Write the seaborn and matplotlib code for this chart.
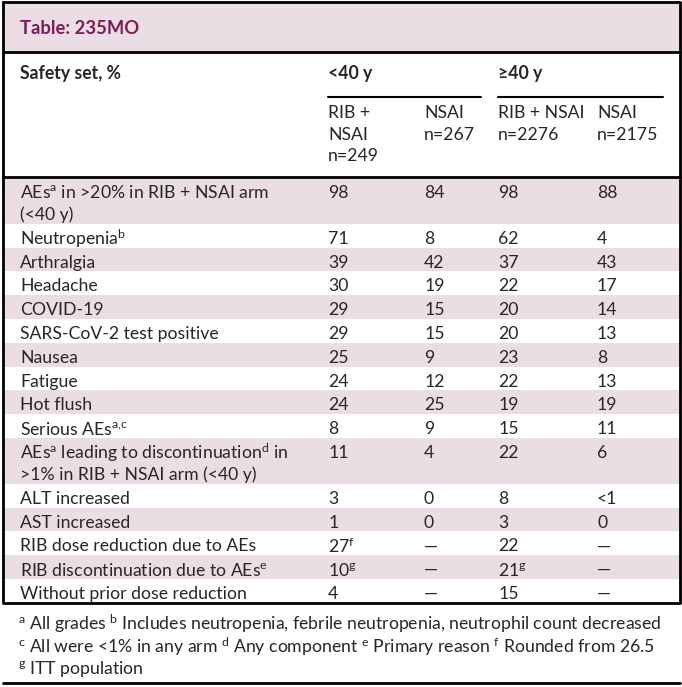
import numpy as np
import pandas as pd
import seaborn as sns
import matplotlib.pyplot as plt

# table content
title = "Table: 235MO"
stub_header = "Safety set, %"
age_groups = ["<40 y", "≥40 y"]
arm_headers = ["RIB +\nNSAI\nn=249", "NSAI\nn=267", "RIB + NSAI\nn=2276", "NSAI\nn=2175"]

row_labels = [
    "AEs$^{a}$ in >20% in RIB + NSAI arm\n(<40 y)",
    "Neutropenia$^{b}$",
    "Arthralgia",
    "Headache",
    "COVID-19",
    "SARS-CoV-2 test positive",
    "Nausea",
    "Fatigue",
    "Hot flush",
    "Serious AEs$^{a{,}c}$",
    "AEs$^{a}$ leading to discontinuation$^{d}$ in\n>1% in RIB + NSAI arm (<40 y)",
    "ALT increased",
    "AST increased",
    "RIB dose reduction due to AEs",
    "RIB discontinuation due to AEs$^{e}$",
    "Without prior dose reduction",
]
rib_nsai_lt40 = ["98", "71", "39", "30", "29", "29", "25", "24", "24", "8", "11", "3", "1", "27$^{f}$", "10$^{g}$", "4"]
nsai_lt40 = ["84", "8", "42", "19", "15", "15", "9", "12", "25", "9", "4", "0", "0", "—", "—", "—"]
rib_nsai_ge40 = ["98", "62", "37", "22", "20", "20", "23", "22", "19", "15", "22", "8", "3", "22", "21$^{g}$", "15"]
nsai_ge40 = ["88", "4", "43", "17", "14", "13", "8", "13", "19", "11", "6", "<1", "0", "—", "—", "—"]

footnotes = [
    "$^{a}$ All grades $^{b}$ Includes neutropenia, febrile neutropenia, neutrophil count decreased",
    "$^{c}$ All were <1% in any arm $^{d}$ Any component $^{e}$ Primary reason $^{f}$ Rounded from 26.5",
    "$^{g}$ ITT population",
]

df = pd.DataFrame({
    "label": row_labels,
    "c1": rib_nsai_lt40,
    "c2": nsai_lt40,
    "c3": rib_nsai_ge40,
    "c4": nsai_ge40,
})

sns.set_theme(style="white")
plt.rcParams["font.family"] = ["Lato", "DejaVu Sans"]
plt.rcParams["mathtext.fontset"] = "custom"
plt.rcParams["mathtext.rm"] = "Lato"
plt.rcParams["mathtext.it"] = "Lato"
plt.rcParams["mathtext.bf"] = "Lato:bold"

pink = "#ebdde4"
title_col = "#7d1a5b"
fs = 12.7

fig = plt.figure(figsize=(6.82, 6.87), dpi=100)
ax = fig.add_axes([0, 0, 1, 1])
ax.set_xlim(0, 682)
ax.set_ylim(687, 0)
ax.axis("off")

col_x = [328, 424, 498, 597]
label_x = 20
left, right = 3, 680

# title band
ax.axhspan(2, 52, xmin=left / 682, xmax=right / 682, color=pink, lw=0)
ax.text(label_x, 28, title, color=title_col, fontsize=fs + 0.5, fontweight="bold", va="center")

# header
ax.text(label_x, 74, stub_header, fontsize=fs, fontweight="bold", va="center")
ax.text(col_x[0], 74, age_groups[0], fontsize=fs, fontweight="bold", va="center")
ax.text(col_x[2], 74, age_groups[1], fontsize=fs, fontweight="bold", va="center")
ax.plot([col_x[0], 481], [97, 97], color="black", lw=1.5)
ax.plot([col_x[2], 663], [97, 97], color="black", lw=1.5)
for x, h in zip(col_x, arm_headers):
    for k, line in enumerate(h.split("\n")):
        ax.text(x, 113 + 21.5 * k, line, fontsize=fs, va="center")

# body rows
line_h = 22
row_h = 23.8
y = 178
for i, row in df.iterrows():
    nlines = row["label"].count("\n") + 1
    h = row_h + (nlines - 1) * line_h
    if i % 2 == 0:
        ax.axhspan(y, y + h, xmin=left / 682, xmax=right / 682, color=pink, lw=0)
    for k, line in enumerate(row["label"].split("\n")):
        ax.text(label_x, y + 15 + line_h * k, line, fontsize=fs, va="center")
    for x, c in zip(col_x, ["c1", "c2", "c3", "c4"]):
        ax.text(x, y + 15, row[c], fontsize=fs, va="center")
    y += h
body_bottom = y

# rules and frame
ax.plot([left, right], [52, 52], color="black", lw=2)
ax.plot([left, right], [177, 177], color="black", lw=2)
ax.plot([left, right, right, left, left], [2, 2, body_bottom, body_bottom, 2], color="black", lw=2)

# footnotes
for k, fn in enumerate(footnotes):
    ax.text(18, 624 + 22.5 * k, fn, fontsize=fs, va="center")
ax.plot([left, right], [683, 683], color="black", lw=2)

fig.savefig("out.png", dpi=100)
